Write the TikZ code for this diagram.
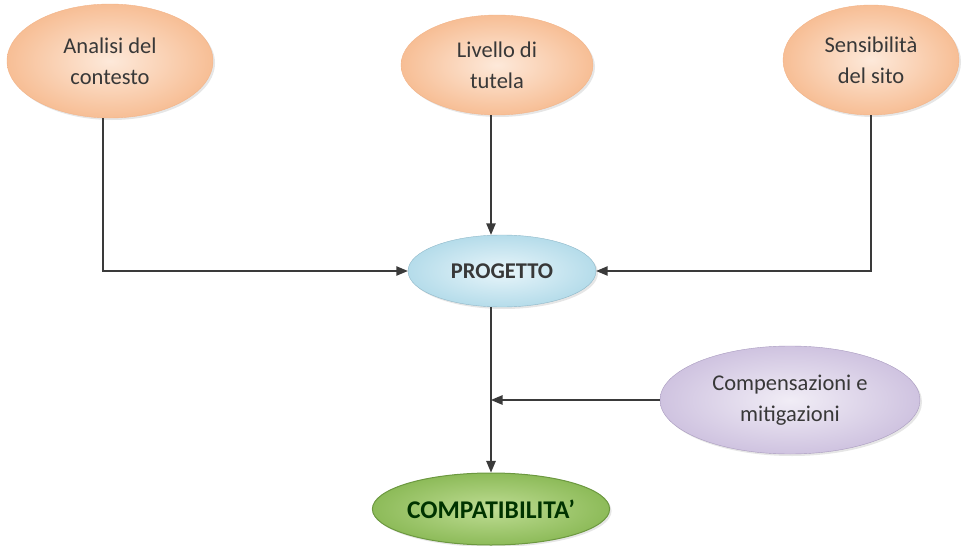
\documentclass[tikz,border=0pt]{standalone}
\usepackage{fontspec}
\setmainfont{Carlito}
\usepackage{tikz}
\usetikzlibrary{shapes.geometric,shadows,arrows}

\definecolor{peachin}{HTML}{FDE9DA}
\definecolor{peachout}{HTML}{F7BE95}
\definecolor{peachline}{HTML}{F2B489}
\definecolor{bluein}{HTML}{E8F5FA}
\definecolor{blueout}{HTML}{B5DCEA}
\definecolor{blueline}{HTML}{8FB8C9}
\definecolor{lilacin}{HTML}{F1EDF6}
\definecolor{lilacout}{HTML}{CFC3E0}
\definecolor{lilacline}{HTML}{A99BBF}
\definecolor{greenin}{HTML}{BEDC93}
\definecolor{greenout}{HTML}{8DBB59}
\definecolor{greenline}{HTML}{6C9840}
\definecolor{linegray}{HTML}{3A3A3A}

\begin{document}
\begin{tikzpicture}[x=1pt,y=-1pt,
    bubble/.style={ellipse, inner sep=0pt, align=center, text=black!78,
        font=\fontsize{22.5}{31}\selectfont,
        drop shadow={opacity=0.2, shadow xshift=2pt, shadow yshift=-2pt}},
    factor/.style={bubble, draw=peachline, inner color=peachin, outer color=peachout},
    link/.style={draw=linegray, line width=1.7pt},
    arr/.style={link, -triangle 45}]
    \useasboundingbox (0,0) rectangle (962,546);
    % input factors
    \node[factor, minimum width=206pt, minimum height=114pt] (analisi) at (110,61) {Analisi del\\contesto};
    \node[factor, minimum width=192pt, minimum height=100pt] (livello) at (497,65) {Livello di\\tutela};
    \node[factor, minimum width=176pt, minimum height=110pt] (sensib) at (871,60) {Sensibilità\\del sito};
    % project and outcome
    \node[bubble, draw=blueline, inner color=bluein, outer color=blueout,
        font=\fontsize{22.5}{26}\selectfont\bfseries,
        minimum width=188pt, minimum height=72pt] (progetto) at (502,271) {PROGETTO};
    \node[bubble, draw=lilacline, inner color=lilacin, outer color=lilacout,
        minimum width=260pt, minimum height=108pt] (compens) at (790,400) {Compensazioni e\\mitigazioni};
    \node[bubble, draw=greenline, line width=1pt, inner color=greenin, outer color=greenout,
        text=green!20!black, font=\fontsize{25.5}{30}\selectfont\bfseries,
        minimum width=212pt, minimum height=72pt] (compat) at (491,509) {COMPATIBILITA'};
    \coordinate (spine) at (491,0);
    %
    \draw[arr] ([xshift=-7pt]analisi.south) |- (progetto.west);
    \draw[arr] (sensib.south) |- (progetto.east);
    \draw[arr] (livello.south -| spine) -- (progetto.north -| spine);
    \draw[arr] (progetto.south -| spine) -- (compat.north);
    \draw[arr] (compens.west) -- (compens.west -| spine);
\end{tikzpicture}
\end{document}
